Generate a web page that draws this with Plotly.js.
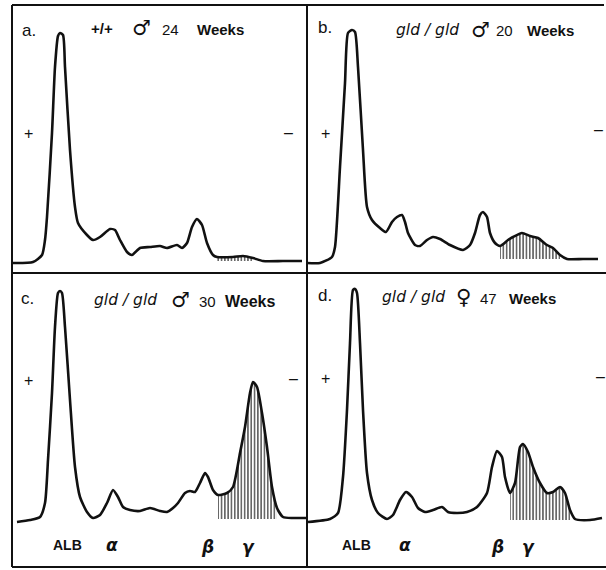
<!DOCTYPE html>
<html>
<head>
<meta charset="utf-8">
<script src="https://cdn.plot.ly/plotly-3.0.1.min.js"></script>
<style>html,body{margin:0;padding:0;background:#fff;}#chart{width:606px;height:570px;}</style>
</head>
<body>
<div id="chart"></div>
<script>
// Densitometer traces (migration distance vs. absorbance, arbitrary units)
const aX = [0,21,30,33,35,40,43,46,48,51,53,58,63,66,75,81,88,98,103,108,115,120,128,138,148,155,165,170,175,180,185,190,195,201,205,221,231,241,251,271,290];
const aY = [10,11,18,33,56,140,206,237,240,238,206,123,66,50,38,33,36,44,43,33,21,18,25,26,27,25,28,25,30,46,54,48,30,18,16,16,17,15,12,12,12];
const bX = [0,13,25,28,33,38,41,45,48,51,56,60,65,73,79,85,90,95,98,101,108,113,120,126,133,143,156,163,168,173,176,180,183,188,193,201,206,215,223,231,240,246,253,260,276,291];
const bY = [10,10,16,26,106,190,240,243,241,206,123,66,53,45,41,51,56,58,51,40,28,27,33,36,34,28,23,28,40,58,61,56,40,30,27,33,36,40,37,35,28,25,18,14,14,14];
const cX = [5,18,28,33,36,40,43,46,48,50,53,58,63,68,75,81,88,95,101,106,111,118,128,138,148,155,161,166,173,178,183,188,193,196,201,206,215,221,228,233,238,241,245,250,255,260,265,271,281,295];
const cY = [44,46,49,63,106,173,239,273,275,273,239,166,99,69,54,48,51,63,76,69,59,56,55,58,55,54,58,63,73,75,74,83,93,89,76,71,73,79,113,139,173,184,179,153,119,79,58,49,48,48];
const dX = [1,23,31,36,40,43,46,48,50,53,56,60,65,71,80,86,93,99,105,111,118,126,135,141,150,160,170,180,185,190,195,198,203,208,213,216,221,226,233,240,246,253,258,263,268,283,295];
const dY = [44,47,53,89,156,223,276,277,273,223,156,93,66,53,47,51,66,74,69,58,54,56,59,54,53,54,59,73,99,115,109,89,73,83,119,122,114,99,83,73,74,79,73,56,47,46,48];

// shaded (gamma-globulin) zones: [from, to] in migration units, and baseline
const aHatch = [203, 241], aBase = 12;
const bHatch = [190, 253], bBase = 14;
const cHatch = [203, 268], cBase = 47;
const dHatch = [202, 266], dBase = 46;

const panelLetters = ['a.', 'b.', 'c.', 'd.'];
const genotypes = ['+/+', 'gld / gld', 'gld / gld', 'gld / gld'];
const sexes = ['♂', '♂', '♂', '♀'];
const ages = ['24', '20', '30', '47'];
const ageUnit = 'Weeks';
const fractionLabels = ['ALB', 'α', 'β', 'γ'];

const W = 606, H = 570;
const PX = v => v / W, PY = v => 1 - v / H;

// label placement (pixel centres) per panel
const panels = [
  {x: aX, y: aY, hatch: aHatch, base: aBase, l: 12, r: 307, t: 5, b: 273,
   letter: [29, 31], ty: 28, tx: [102, 141, 171, 220], plus: [28, 133], minus: [288, 132]},
  {x: bX, y: bY, hatch: bHatch, base: bBase, l: 307, r: 606, t: 5, b: 273,
   letter: [325, 27], ty: 30, tx: [427, 480, 504, 550], plus: [325, 133], minus: [598, 129]},
  {x: cX, y: cY, hatch: cHatch, base: cBase, l: 12, r: 307, t: 273, b: 566,
   letter: [27, 298], ty: 300, tx: [125, 180, 207, 250], plus: [28, 380], minus: [293, 378],
   frac: [[67, 545], [112, 545], [207, 547], [248, 547]]},
  {x: dX, y: dY, hatch: dHatch, base: dBase, l: 307, r: 606, t: 273, b: 566,
   letter: [325, 296], ty: 297, tx: [413, 463, 488, 532], plus: [325, 378], minus: [600, 377],
   frac: [[356, 545], [405, 545], [497, 547], [528, 547]]}
];

const traces = [];
const layout = {
  width: W, height: H,
  margin: {l: 0, r: 0, t: 0, b: 0},
  paper_bgcolor: '#fff', plot_bgcolor: 'rgba(0,0,0,0)',
  showlegend: false,
  annotations: [], shapes: []
};

const SANS = 'Liberation Sans, Arial, sans-serif';
const DJV = 'DejaVu Sans, sans-serif';

panels.forEach((p, i) => {
  const sfx = i === 0 ? '' : String(i + 1);
  const xa = 'x' + sfx, ya = 'y' + sfx;
  layout['xaxis' + sfx] = {domain: [PX(p.l), PX(p.r)], range: [0, p.r - p.l], visible: false, fixedrange: true};
  layout['yaxis' + sfx] = {domain: [PY(p.b), PY(p.t)], range: [0, p.b - p.t], visible: false, fixedrange: true};

  // hatched zone
  const hx = [], hy = [];
  p.x.forEach((v, k) => { if (v >= p.hatch[0] && v <= p.hatch[1]) { hx.push(v); hy.push(p.y[k]); } });
  traces.push({x: hx, y: hx.map(() => p.base), xaxis: xa, yaxis: ya, mode: 'lines',
    line: {width: 0, color: 'rgba(0,0,0,0)'}, hoverinfo: 'skip'});
  traces.push({x: hx, y: hy, xaxis: xa, yaxis: ya, mode: 'lines', fill: 'tonexty',
    line: {width: 0, color: 'rgba(0,0,0,0)', shape: 'spline', smoothing: 0.6},
    fillcolor: 'rgba(0,0,0,0)',
    fillpattern: {shape: '|', size: 3.3, solidity: 0.32, fgcolor: '#111', bgcolor: 'rgba(0,0,0,0)'},
    hoverinfo: 'skip'});
  // trace
  traces.push({x: p.x, y: p.y, xaxis: xa, yaxis: ya, mode: 'lines',
    line: {color: '#111', width: 2.6, shape: 'spline', smoothing: 0.6}, hoverinfo: 'skip'});

  const ann = (xy, text, size, fam, extra) => layout.annotations.push(Object.assign({
    xref: 'paper', yref: 'paper', x: PX(xy[0]), y: PY(xy[1]), text: text, showarrow: false,
    xanchor: 'center', yanchor: 'middle',
    font: {family: fam || SANS, size: size, color: '#111'}
  }, extra || {}));
  ann(p.letter, panelLetters[i], 17);
  ann([p.tx[0], p.ty], i === 0 ? '<b>' + genotypes[i] + '</b>' : '<i>' + genotypes[i] + '</i>', i === 0 ? 15 : 15.5, i === 0 ? SANS : DJV);
  ann([p.tx[1], p.ty], sexes[i], 21, DJV);
  ann([p.tx[2], p.ty + 1], ages[i], 15);
  ann([p.tx[3], p.ty + 1], '<b>' + ageUnit + '</b>', i === 2 ? 16 : 15);
  ann(p.plus, '+', 16);
  ann(p.minus, '–', 16);
  if (p.frac) p.frac.forEach((xy, k) => ann(xy,
    k === 0 ? '<b>' + fractionLabels[k] + '</b>' : '<b><i>' + fractionLabels[k] + '</i></b>',
    k === 0 ? 14 : 17, k === 0 ? SANS : DJV));
});

// frame lines
const L = (x0, y0, x1, y1) => layout.shapes.push({type: 'line', xref: 'paper', yref: 'paper',
  x0: PX(x0), y0: PY(y0), x1: PX(x1), y1: PY(y1), line: {color: '#111', width: 2}});
L(12, 5, 604, 5);
L(12, 5, 12, 567);
L(12, 567, 606, 567);
L(307, 5, 307, 567);
L(12, 273, 606, 273);

Plotly.newPlot('chart', traces, layout, {staticPlot: true, displayModeBar: false});
</script>
</body>
</html>
